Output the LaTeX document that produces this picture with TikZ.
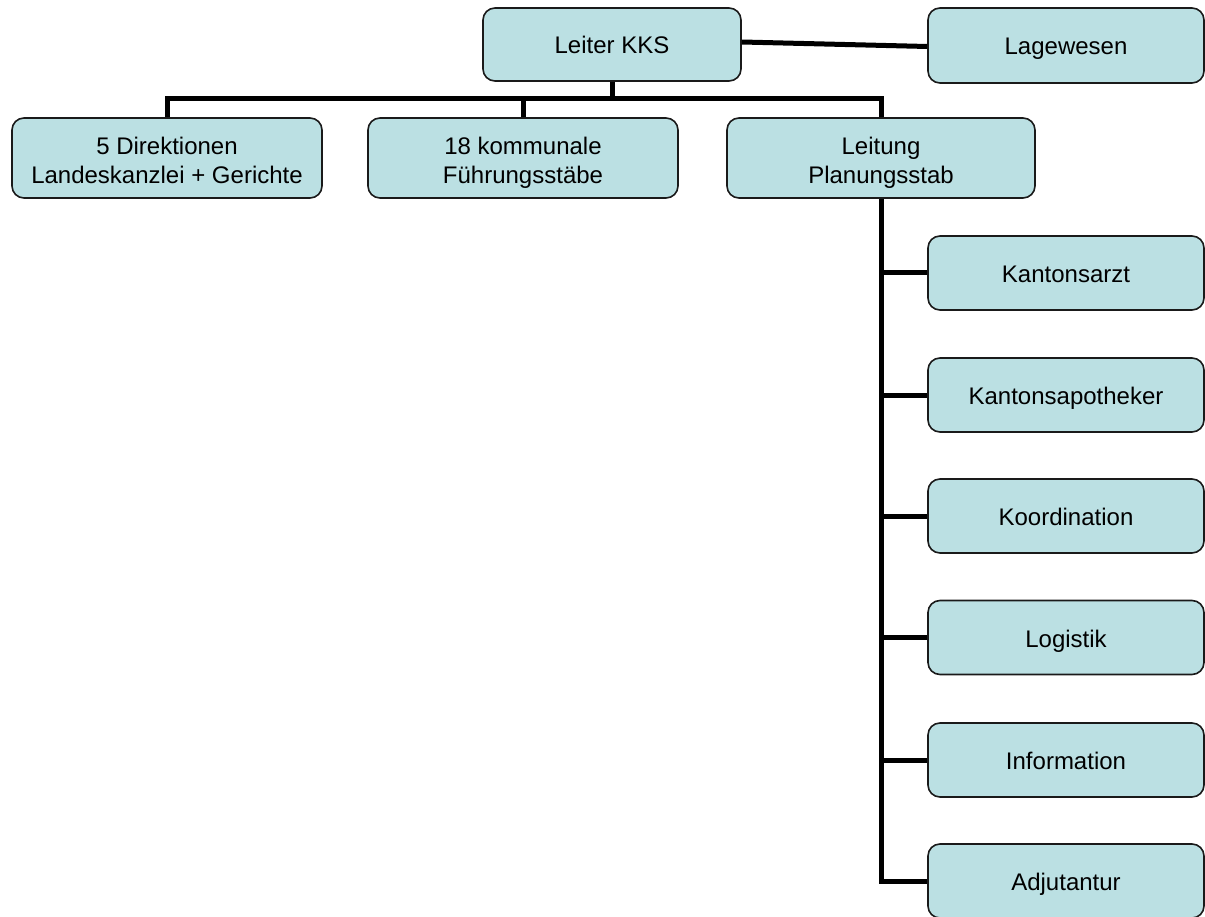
\documentclass[tikz,border=0pt]{standalone}
\usepackage{fontspec}
\setmainfont{Liberation Sans}
\definecolor{boxfill}{HTML}{BBE0E3}
\definecolor{boxline}{HTML}{1A1A1A}
\begin{document}
\begin{tikzpicture}[x=1pt,y=-1pt,
  orgbox/.style={draw=boxline, line width=1.6pt, fill=boxfill, rounded corners=12pt,
    align=center, inner sep=0pt, font=\fontsize{24}{28.5}\selectfont},
  topbox/.style={orgbox, minimum width=258pt, minimum height=73pt, text height=19pt, text depth=0pt},
  midbox/.style={orgbox, minimum width=310pt, minimum height=80pt, text height=51pt, text depth=0pt},
  sidebox/.style={orgbox, minimum width=276pt, minimum height=74pt, text height=19pt, text depth=0pt},
  link/.style={line width=5pt, black}]
\useasboundingbox (0,0) rectangle (1205,917);
\node[topbox] (lkks) at (612,44.5) {Leiter KKS};
\node[sidebox, minimum height=75pt] (lage) at (1066,45.5) {Lagewesen};
\node[midbox] (dir) at (167,158) {5 Direktionen\\Landeskanzlei + Gerichte};
\node[midbox] (komm) at (523,158) {18 kommunale\\Führungsstäbe};
\node[midbox, minimum width=308pt] (leit) at (881,158) {Leitung\\Planungsstab};
\node[sidebox] (arzt) at (1066,273) {Kantonsarzt};
\node[sidebox] (apo) at (1066,395) {Kantonsapotheker};
\node[sidebox] (koord) at (1066,516) {Koordination};
\node[sidebox] (logi) at (1066,637.5) {Logistik};
\node[sidebox] (info) at (1066,760) {Information};
\node[sidebox] (adju) at (1066,881) {Adjutantur};
\coordinate (bus) at (612,99);
\coordinate (spine) at (881,881);
\draw[link] ([yshift=2.5pt]lkks.east) -- ([yshift=-1pt]lage.west);
\draw[link] (lkks.south) -- (bus);
\draw[link] (dir.north) |- (bus) -| (leit.north);
\draw[link] (komm.north) -- (komm.north |- bus);
\draw[link] (leit.south) -- (spine) -- (adju.west);
\foreach \n in {arzt,apo,koord,logi,info}
  \draw[link] (\n.west) -- (\n.west -| spine);
\end{tikzpicture}
\end{document}
